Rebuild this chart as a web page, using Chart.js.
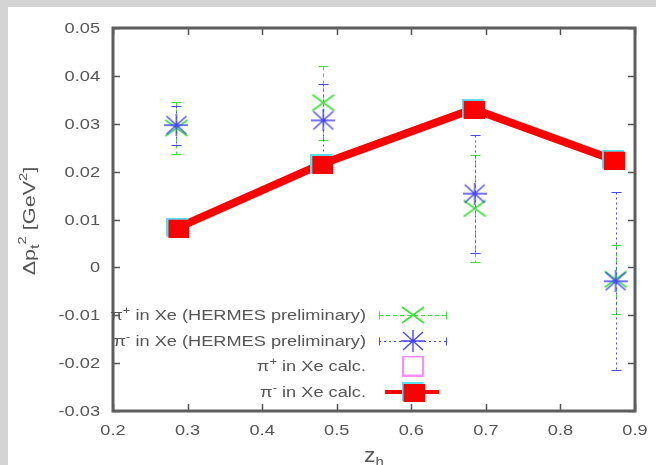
<!DOCTYPE html>
<html>
<head>
<meta charset="utf-8">
<script src="https://cdn.jsdelivr.net/npm/chart.js@4.4.0/dist/chart.umd.min.js"></script>
<style>
  html, body { margin: 0; padding: 0; background: #d6d6d6; }
  #myChart { display: block; }
</style>
</head>
<body>
<canvas id="myChart" width="656" height="465"></canvas>
<script>
// HERMES points (z_h, value, error)
const zhHermes = [0.285, 0.482, 0.685, 0.874];
const piPlusHermes = [0.0291, 0.0344, 0.0123, -0.0025];
const piPlusHermesErr = [0.0055, 0.0077, 0.0112, 0.0072];
const piMinusHermes = [0.0297, 0.0307, 0.0154, -0.0029];
const piMinusHermesErr = [0.0041, 0.0077, 0.0123, 0.0186];

// calculation
const zhCalc = [0.287, 0.480, 0.683, 0.871];
const piPlusCalc = [0.0083, 0.0216, 0.0331, 0.0225];
const piMinusCalc = [0.0083, 0.0216, 0.0331, 0.0225];

const xTicks = [0.2, 0.3, 0.4, 0.5, 0.6, 0.7, 0.8, 0.9];
const xTickLabels = ['0.2', '0.3', '0.4', '0.5', '0.6', '0.7', '0.8', '0.9'];
const yTicks = [-0.03, -0.02, -0.01, 0, 0.01, 0.02, 0.03, 0.04, 0.05];
const yTickLabels = ['-0.03', '-0.02', '-0.01', '0', '0.01', '0.02', '0.03', '0.04', '0.05'];

const legendLabels = [
  ['\u03c0', '+', ' in Xe (HERMES preliminary)'],
  ['\u03c0', '-', ' in Xe (HERMES preliminary)'],
  ['\u03c0', '+', ' in Xe calc.'],
  ['\u03c0', '-', ' in Xe calc.']
];

const GREEN = 'rgb(60,225,60)';
const BLUE = 'rgb(70,70,255)';
const MAGENTA = 'rgb(255,110,255)';
const RED = 'rgb(255,0,0)';
const CYAN = 'rgb(90,225,240)';
const TEXT = '#555';
const FONT = '"Liberation Sans", Arial, sans-serif';

function mark(w, h, fn) {
  const c = document.createElement('canvas');
  c.width = w; c.height = h;
  fn(c.getContext('2d'), w, h);
  return c;
}
const greenX = mark(24, 18, (c, w, h) => {
  c.strokeStyle = GREEN; c.lineWidth = 1.6;
  c.beginPath(); c.moveTo(1, 1); c.lineTo(w - 1, h - 1); c.moveTo(w - 1, 1); c.lineTo(1, h - 1); c.stroke();
});
const blueStar = mark(24, 22, (c, w, h) => {
  c.strokeStyle = BLUE; c.lineWidth = 1.4;
  c.beginPath();
  c.moveTo(2, 2); c.lineTo(w - 2, h - 2); c.moveTo(w - 2, 2); c.lineTo(2, h - 2);
  c.moveTo(0, h / 2); c.lineTo(w, h / 2); c.moveTo(w / 2, 0); c.lineTo(w / 2, h);
  c.stroke();
});
const magentaSq = mark(22, 21, (c, w, h) => {
  c.strokeStyle = MAGENTA; c.lineWidth = 1.6;
  c.strokeRect(1, 1, w - 2, h - 2);
});
const magentaSqPlot = mark(18, 16, (c, w, h) => {
  c.strokeStyle = MAGENTA; c.lineWidth = 1.6;
  c.strokeRect(1, 1, w - 2, h - 2);
});
const redSq = mark(23, 20, (c, w, h) => {
  c.fillStyle = CYAN; c.fillRect(0, 0, w - 1, h - 1);
  c.fillStyle = RED; c.fillRect(2, 2, w - 2, h - 2);
});

function pts(xs, ys) { return xs.map((x, i) => ({ x: x, y: ys[i] })); }

// draw text pieces [{t,size,dy}] stretched along the text direction
function richText(ctx, pieces, x, y, align, sx) {
  ctx.save();
  let total = 0;
  pieces.forEach(p => { ctx.font = p.size + 'px ' + FONT; total += ctx.measureText(p.t).width; });
  ctx.translate(x, y);
  ctx.scale(sx, 1);
  let cx = align === 'right' ? -total : (align === 'center' ? -total / 2 : 0);
  ctx.textAlign = 'left';
  ctx.textBaseline = 'alphabetic';
  pieces.forEach(p => {
    ctx.font = p.size + 'px ' + FONT;
    ctx.fillText(p.t, cx, p.dy || 0);
    cx += ctx.measureText(p.t).width;
  });
  ctx.restore();
}

const errorBars = [
  { xs: zhHermes, ys: piPlusHermes, es: piPlusHermesErr, color: GREEN, dash: [4, 3] },
  { xs: zhHermes, ys: piMinusHermes, es: piMinusHermesErr, color: BLUE, dash: [2, 3] }
];

const gnuplotLook = {
  id: 'gnuplotLook',
  beforeDraw(chart) {
    const ctx = chart.ctx;
    ctx.save();
    ctx.fillStyle = '#d4d4d4';
    ctx.fillRect(0, 0, chart.width, chart.height);
    ctx.fillStyle = '#ffffff';
    ctx.fillRect(8, 7, chart.width - 8, chart.height - 7);
    ctx.restore();
  },
  beforeDatasetsDraw(chart) {
    const ctx = chart.ctx, xs = chart.scales.x, ys = chart.scales.y;
    ctx.save();
    errorBars.forEach(b => {
      ctx.strokeStyle = b.color;
      ctx.lineWidth = 1;
      b.xs.forEach((xv, i) => {
        const px = Math.round(xs.getPixelForValue(xv)) + 0.5;
        const top = Math.round(ys.getPixelForValue(b.ys[i] + b.es[i])) + 0.5;
        const bot = Math.round(ys.getPixelForValue(b.ys[i] - b.es[i])) + 0.5;
        ctx.setLineDash(b.dash);
        ctx.beginPath(); ctx.moveTo(px, top); ctx.lineTo(px, bot); ctx.stroke();
        ctx.setLineDash([]);
        ctx.beginPath();
        ctx.moveTo(px - 5, top); ctx.lineTo(px + 5, top);
        ctx.moveTo(px - 5, bot); ctx.lineTo(px + 5, bot);
        ctx.stroke();
      });
    });
    ctx.restore();
  },
  afterDraw(chart) {
    const ctx = chart.ctx, a = chart.chartArea, xs = chart.scales.x, ys = chart.scales.y;
    ctx.save();
    // inward ticks on all four sides
    ctx.strokeStyle = '#555';
    ctx.lineWidth = 1.5;
    ctx.beginPath();
    xTicks.forEach(v => {
      const px = Math.round(xs.getPixelForValue(v)) + 0.5;
      ctx.moveTo(px, a.bottom); ctx.lineTo(px, a.bottom - 7);
      ctx.moveTo(px, a.top); ctx.lineTo(px, a.top + 7);
    });
    yTicks.forEach(v => {
      const py = Math.round(ys.getPixelForValue(v)) + 0.5;
      ctx.moveTo(a.left, py); ctx.lineTo(a.left + 7, py);
      ctx.moveTo(a.right, py); ctx.lineTo(a.right - 7, py);
    });
    ctx.stroke();
    // frame
    ctx.strokeStyle = '#5e5e5e';
    ctx.lineWidth = 3;
    ctx.strokeRect(a.left, a.top, a.right - a.left, a.bottom - a.top);

    // tick labels
    ctx.fillStyle = TEXT;
    xTicks.forEach((v, i) => {
      richText(ctx, [{ t: xTickLabels[i], size: 14 }], xs.getPixelForValue(v), a.bottom + 24, 'center', 1.3);
    });
    yTicks.forEach((v, i) => {
      richText(ctx, [{ t: yTickLabels[i], size: 14 }], a.left - 13, ys.getPixelForValue(v) + 5, 'right', 1.3);
    });

    // x title
    richText(ctx, [{ t: 'z', size: 20 }, { t: 'h', size: 13, dy: 4 }], 374, 462, 'center', 1.15);

    // y title (rotated)
    ctx.save();
    ctx.translate(35, 221);
    ctx.rotate(-Math.PI / 2);
    richText(ctx, [
      { t: '\u0394p', size: 16 },
      { t: 't', size: 12, dy: 4 },
      { t: '2', size: 11, dy: -9 },
      { t: ' [GeV', size: 16 },
      { t: '2', size: 11, dy: -8 },
      { t: ']', size: 16 }
    ], 0, 0, 'center', 1.35);
    ctx.restore();

    // legend
    const rowY = [315, 341, 366, 392];
    const sx = 413;
    legendLabels.forEach((l, i) => {
      ctx.fillStyle = TEXT;
      richText(ctx, [{ t: l[0], size: 14 }, { t: l[1], size: 10, dy: -6 }, { t: l[2], size: 14 }], 366, rowY[i] + 5, 'right', 1.3);
    });
    // samples
    [[GREEN, [4, 3], greenX], [BLUE, [2, 3], blueStar]].forEach((s, i) => {
      const y = rowY[i] + 0.5;
      ctx.strokeStyle = s[0];
      ctx.lineWidth = 1;
      ctx.setLineDash(s[1]);
      ctx.beginPath(); ctx.moveTo(379, y); ctx.lineTo(447, y); ctx.stroke();
      ctx.setLineDash([]);
      ctx.beginPath();
      ctx.moveTo(379.5, y - 4); ctx.lineTo(379.5, y + 4);
      ctx.moveTo(446.5, y - 4); ctx.lineTo(446.5, y + 4);
      ctx.stroke();
      ctx.drawImage(s[2], sx - s[2].width / 2, rowY[i] - s[2].height / 2);
    });
    ctx.drawImage(magentaSq, sx - magentaSq.width / 2, rowY[2] - magentaSq.height / 2);
    ctx.strokeStyle = RED;
    ctx.lineWidth = 4;
    ctx.beginPath(); ctx.moveTo(385, rowY[3]); ctx.lineTo(439, rowY[3]); ctx.stroke();
    ctx.drawImage(redSq, sx - redSq.width / 2, rowY[3] - redSq.height / 2);
    ctx.restore();
  }
};

const data = {
  datasets: [
    {
      label: '\u03c0- in Xe calc.',
      data: pts(zhCalc, piMinusCalc),
      showLine: true,
      borderColor: RED,
      borderWidth: 8,
      borderJoinStyle: 'miter',
      pointStyle: redSq,
      pointRadius: 10
    },
    {
      label: '\u03c0+ in Xe calc.',
      data: pts(zhCalc, piPlusCalc),
      showLine: false,
      pointStyle: magentaSqPlot,
      pointRadius: 10
    },
    {
      label: '\u03c0- in Xe (HERMES preliminary)',
      data: pts(zhHermes, piMinusHermes),
      showLine: false,
      pointStyle: blueStar,
      pointRadius: 10
    },
    {
      label: '\u03c0+ in Xe (HERMES preliminary)',
      data: pts(zhHermes, piPlusHermes),
      showLine: false,
      pointStyle: greenX,
      pointRadius: 10
    }
  ]
};

const config = {
  type: 'scatter',
  data,
  options: {
    responsive: false,
    animation: false,
    events: [],
    layout: { padding: { left: 0, right: 21, top: 28, bottom: 0 } },
    plugins: { legend: { display: false }, tooltip: { enabled: false } },
    scales: {
      x: {
        type: 'linear', min: 0.2, max: 0.9,
        ticks: { display: false }, grid: { display: false }, border: { display: false },
        afterFit(s) { s.height = 54; }
      },
      y: {
        type: 'linear', min: -0.03, max: 0.05,
        ticks: { display: false }, grid: { display: false }, border: { display: false },
        afterFit(s) { s.width = 113; }
      }
    }
  },
  plugins: [gnuplotLook]
};

var myChart = new Chart(document.getElementById('myChart'), config);
</script>
</body>
</html>
